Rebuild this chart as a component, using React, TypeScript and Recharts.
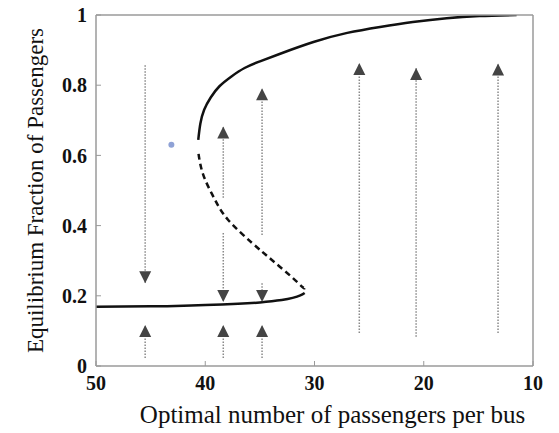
import {
  ComposedChart,
  Label,
  Line,
  Scatter,
  XAxis,
  YAxis,
} from "recharts";

// lower stable branch (solid)
const lowerX = [50, 45, 42, 40, 37, 35, 33, 32, 31.3, 30.9];
const lowerY = [0.169, 0.17, 0.172, 0.174, 0.177, 0.181, 0.188, 0.194, 0.201, 0.208];

// unstable branch (dashed)
const middleX = [30.9, 31.1, 32.1, 33.9, 35.7, 37.9, 39.1, 40.0, 40.45, 40.64];
const middleY = [0.222, 0.225, 0.254, 0.302, 0.35, 0.416, 0.473, 0.53, 0.575, 0.61];

// upper stable branch (solid)
const upperX = [40.64, 40.45, 40.1, 39.5, 38.7, 37.6, 36.4, 35, 33.2, 30.1, 27, 24, 21, 17.9, 14.9, 11.5];
const upperY = [0.644, 0.69, 0.73, 0.765, 0.797, 0.825, 0.849, 0.868, 0.889, 0.923, 0.949, 0.966, 0.98, 0.991, 0.997, 1.0];

// flow arrows: x position, start value, tip value
const arrowX = [45.5, 45.5, 38.35, 38.35, 38.35, 34.8, 34.8, 34.8, 25.9, 20.7, 13.2];
const arrowFrom = [0.857, 0.023, 0.479, 0.379, 0.023, 0.373, 0.236, 0.023, 0.094, 0.083, 0.094];
const arrowTo = [0.236, 0.117, 0.682, 0.182, 0.117, 0.791, 0.182, 0.117, 0.863, 0.849, 0.862];

const markerX = [43.1];
const markerY = [0.63];

const xTicks = [50, 40, 30, 20, 10];
const yTicks = [0, 0.2, 0.4, 0.6, 0.8, 1];

const zip = (xs: number[], ys: number[]) => xs.map((x, i) => ({ x, y: ys[i] }));

const lowerData = zip(lowerX, lowerY);
const middleData = zip(middleX, middleY);
const upperData = zip(upperX, upperY);
const markerData = zip(markerX, markerY);
const arrows = arrowX.map((x, i) => ({
  up: arrowTo[i] > arrowFrom[i],
  data: [
    { x, y: arrowFrom[i] },
    { x, y: arrowTo[i] },
  ],
}));

const font = "Liberation Serif";
const frame = "#9a9a9a";

const renderHead = (up: boolean) => (props: any) => {
  const { cx, cy, index } = props;
  if (index !== 1) return <g key={`h${index}`} />;
  const h = 12;
  const b = up ? cy + h : cy - h;
  return (
    <polygon
      key={`h${index}`}
      points={`${cx},${cy} ${cx - 6},${b} ${cx + 6},${b}`}
      fill="#444"
    />
  );
};

const tickStyle = { fill: "#111", fontSize: 20, fontFamily: font, fontWeight: 600 };

export default function App() {
  return (
    <div style={{ position: "absolute", left: 0, top: 0, background: "#fff", fontFamily: font }}>
      <ComposedChart
        width={559}
        height={433}
        margin={{ top: 14, right: 25, bottom: 0, left: 0 }}
        style={{ fontFamily: font }}
      >
        <XAxis
          type="number"
          dataKey="x"
          domain={[10, 50]}
          reversed
          ticks={xTicks}
          height={67}
          axisLine={{ stroke: frame, strokeWidth: 1.5 }}
          tickLine={{ stroke: frame }}
          tickSize={-5}
          tickMargin={15}
          tick={tickStyle}
          allowDataOverflow
        >
          <Label
            value="Optimal number of passengers per bus"
            position="center"
            dx={18}
            dy={15}
            fontFamily={font}
            style={{ fill: "#111", fontSize: 25, fontFamily: font }}
          />
        </XAxis>
        <XAxis
          xAxisId="top"
          orientation="top"
          type="number"
          domain={[10, 50]}
          reversed
          ticks={xTicks}
          height={1}
          axisLine={{ stroke: frame, strokeWidth: 1.5 }}
          tickLine={{ stroke: frame }}
          tickSize={-5}
          tick={false}
        />
        <YAxis
          type="number"
          domain={[0, 1]}
          ticks={yTicks}
          width={96}
          axisLine={{ stroke: frame, strokeWidth: 1.5 }}
          tickLine={{ stroke: frame }}
          tickSize={-5}
          tickMargin={14}
          tick={tickStyle}
          allowDataOverflow
        >
          <Label
            value="Equilibrium Fraction of Passengers"
            position="center"
            angle={-90}
            dx={-13}
            fontFamily={font}
            style={{ fill: "#111", fontSize: 23, fontFamily: font }}
          />
        </YAxis>
        <YAxis
          yAxisId="right"
          orientation="right"
          type="number"
          domain={[0, 1]}
          ticks={yTicks}
          width={1}
          axisLine={{ stroke: frame, strokeWidth: 1.5 }}
          tickLine={{ stroke: frame }}
          tickSize={-5}
          tick={false}
        />

        {arrows.map((a, i) => (
          <Line
            key={`arrow${i}`}
            data={a.data}
            dataKey="y"
            type="linear"
            stroke="#8a8a8a"
            strokeWidth={1.5}
            strokeDasharray="1.5 1.5"
            dot={renderHead(a.up)}
            activeDot={false}
            isAnimationActive={false}
          />
        ))}

        <Line
          data={lowerData}
          dataKey="y"
          type="natural"
          stroke="#111"
          strokeWidth={2.5}
          dot={false}
          activeDot={false}
          isAnimationActive={false}
        />
        <Line
          data={middleData}
          dataKey="y"
          type="natural"
          stroke="#111"
          strokeWidth={2.5}
          strokeDasharray="6 4"
          dot={false}
          activeDot={false}
          isAnimationActive={false}
        />
        <Line
          data={upperData}
          dataKey="y"
          type="natural"
          stroke="#111"
          strokeWidth={2.5}
          dot={false}
          activeDot={false}
          isAnimationActive={false}
        />
        <Scatter
          data={markerData}
          dataKey="y"
          fill="#8fa2d6"
          shape={(p: any) => <circle cx={p.cx} cy={p.cy} r={3} fill="#8fa2d6" />}
          isAnimationActive={false}
        />
      </ComposedChart>
    </div>
  );
}
